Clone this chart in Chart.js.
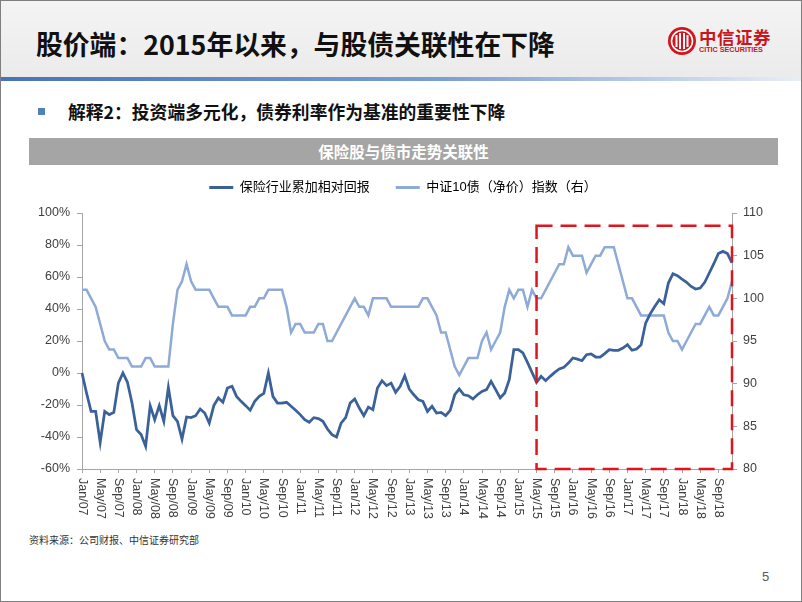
<!DOCTYPE html>
<html>
<head>
<meta charset="utf-8">
<script src="https://cdn.jsdelivr.net/npm/chart.js@4.4.1/dist/chart.umd.min.js"></script>
<style>
  html, body { margin: 0; padding: 0; background: #fff; }
  body { width: 802px; height: 602px; overflow: hidden; position: relative;
         font-family: "Noto Sans CJK SC", "Noto Sans", sans-serif; }
  .frame { position: absolute; left: 0; top: 0; width: 800px; height: 600px; border: 1px solid #7f7f7f; }
  .head { position: absolute; left: 1px; top: 1px; width: 800px; height: 76px;
          background: linear-gradient(#f4f4f4, #ebebeb); }
  .bar { position: absolute; left: 1px; top: 77px; width: 800px; height: 4px;
         background: linear-gradient(to right, #4a73b6, #7c9ed2 55%, #e8eef7); }
  .title { position: absolute; left: 36px; top: 24px; font-size: 26.8px; font-weight: 700;
           color: #111; line-height: 40px; white-space: nowrap; }
  .logo { position: absolute; left: 668px; top: 27px; }
  .logo-cn { position: absolute; left: 699px; top: 26px; font-size: 17.5px; font-weight: 700;
             color: #c8161d; line-height: 22px; letter-spacing: 0.5px; white-space: nowrap; }
  .logo-en { position: absolute; left: 699px; top: 45px; font-family: "Liberation Sans", sans-serif;
             font-size: 7.2px; font-weight: 700; color: #c8161d; line-height: 9px; white-space: nowrap; }
  .bullet { position: absolute; left: 38px; top: 108px; width: 7px; height: 7px; background: #4f81bd; }
  .sub { position: absolute; left: 68px; top: 98px; font-size: 17.8px; font-weight: 700;
         color: #111; line-height: 26px; white-space: nowrap; }
  .banner { position: absolute; left: 29px; top: 138px; width: 749px; height: 27px; background: #a5a5a5;
            color: #fff; font-size: 15.5px; font-weight: 700; line-height: 27px; text-align: center; }
  #chart { position: absolute; left: 18px; top: 150px; }
  .note { position: absolute; left: 29px; top: 533px; font-size: 10px; line-height: 14px; color: #333; white-space: nowrap; }
  .page { position: absolute; left: 762px; top: 569px; font-family: "Liberation Sans", sans-serif;
          font-size: 13px; line-height: 16px; color: #595959; }
</style>
</head>
<body>
<div class="frame"></div>
<div class="head"></div>
<div class="bar"></div>
<div class="title">股价端：2015年以来，与股债关联性在下降</div>
<svg class="logo" width="28" height="28" viewBox="0 0 28 28">
  <circle cx="14" cy="14" r="14" fill="#d2141c"/>
  <circle cx="14" cy="14" r="10.5" fill="none" stroke="#fff" stroke-width="1.6"/>
  <rect x="7.5" y="8" width="2" height="12" fill="#fff"/>
  <rect x="11" y="6" width="2" height="16" fill="#fff"/>
  <rect x="15" y="6" width="2" height="16" fill="#fff"/>
  <rect x="18.5" y="8" width="2" height="12" fill="#fff"/>
</svg>
<div class="logo-cn">中信证券</div>
<div class="logo-en">CITIC SECURITIES</div>
<div class="bullet"></div>
<div class="sub">解释2：投资端多元化，债券利率作为基准的重要性下降</div>
<div class="banner">保险股与债市走势关联性</div>
<canvas id="chart" width="770" height="380"></canvas>
<div class="note">资料来源：公司财报、中信证券研究部</div>
<div class="page">5</div>

<script>
  // monthly, Jan/07 .. Dec/18
  const years = ['07','08','09','10','11','12','13','14','15','16','17','18'];
  const monthNames = ['Jan','Feb','Mar','Apr','May','Jun','Jul','Aug','Sep','Oct','Nov','Dec'];
  const months = [];
  years.forEach(y => monthNames.forEach(m => months.push(m + '/' + y)));

  // 保险行业累加相对回报 (%), left axis
  const insurance = [
    0, -12.5, -24, -24, -43.4, -24, -26, -24.6, -6.3, 0, -5.8, -18.8,
    -35.4, -38.5, -45.8, -20.4, -29.2, -20.4, -30.2, -9, -26.7, -30.2, -41.3, -27.5,
    -27.9, -26.7, -22.5, -25, -31.3, -20.4, -15.6, -18.3, -9.4, -8.3, -14.6, -17.7,
    -20.4, -23.3, -17.7, -14.6, -12.7, 0, -14.6, -18.8, -18.8, -18.3, -20.8, -23.3,
    -26, -29.2, -30.8, -27.9, -28.5, -30.2, -35, -38.5, -40, -31.3, -27.9, -18.8,
    -16.2, -21.9, -26.7, -21.3, -22.9, -9.4, -4.8, -7.9, -6.3, -12.1, -8.3, -1.7,
    -10, -13.6, -16.7, -17.7, -24, -20.8, -25, -24.6, -26.7, -23.3, -13.6, -10,
    -13.6, -14.2, -16.2, -13.6, -11.5, -10.4, -5.2, -10.4, -15.6, -12.5, -4.2, 14.6,
    14.6, 12.5, 6.6, 0.4, -5.8, -2.1, -4.8, -2.1, 0.4, 2.5, 3.5, 6.2,
    9.4, 8.7, 7.7, 11.4, 11.9, 10, 10, 12.1, 14.6, 14.2, 14.2, 15.6,
    17.7, 14.2, 15, 17.7, 31.2, 37, 41.6, 45.8, 43.3, 56.2, 62, 60.8,
    58.7, 56.7, 54.1, 52.5, 53.1, 56.7, 62.5, 68.3, 74.6, 76, 74.6, 68.8
  ];

  // 中证10债（净价）指数, right axis
  const bondIndex = [
    101, 101, 100, 99, 97, 95, 94, 94, 93, 93, 93, 92,
    92, 92, 93, 93, 92, 92, 92, 92, 97, 101, 102, 104,
    102, 101, 101, 101, 101, 100, 99, 99, 99, 98, 98, 98,
    98, 99, 99, 100, 100, 101, 101, 101, 101, 99, 96, 97,
    97, 96, 96, 96, 97, 97, 95, 95, 96, 97, 98, 99,
    100, 99, 99, 98, 100, 100, 100, 100, 99, 99, 99, 99,
    99, 99, 99, 100, 100, 99, 98, 96, 96, 94, 92, 91,
    92, 93, 93, 93, 95, 96, 94, 95, 96, 99, 101, 100,
    101, 101, 99, 101, 100, 100, 101, 102, 103, 104, 104, 106,
    105, 105, 105, 103, 104, 105, 105, 106, 106, 106, 104, 102,
    100, 100, 99, 98, 98, 98, 98, 98, 98, 96, 95, 95,
    94, 95, 96, 97, 97, 98, 99, 98, 98, 99, 100, 102
  ];

  const seriesNames = ['保险行业累加相对回报', '中证10债（净价）指数（右）'];
  const highlight = { from: 'May/15', to: 'Dec/18', top: 108.5 };

  Chart.defaults.font.family = '"Liberation Sans", "Noto Sans CJK SC", sans-serif';
  Chart.defaults.color = '#404040';

  const axisGray = '#a6a6a6';
  const darkBlue = '#3b6199';
  const lightBlue = '#8eaad6';

  // x labels drawn rotated clockwise (top-to-bottom), like the source
  const xLabels = {
    id: 'xLabels',
    afterDraw(chart) {
      const sc = chart.scales.x;
      const ctx = chart.ctx;
      ctx.save();
      ctx.fillStyle = '#404040';
      ctx.font = '12.5px "Liberation Sans", sans-serif';
      ctx.textAlign = 'left';
      ctx.textBaseline = 'middle';
      sc.ticks.forEach(t => {
        ctx.save();
        ctx.translate(sc.getPixelForValue(t.value), sc.top + 9);
        ctx.rotate(Math.PI / 2);
        ctx.fillText(months[t.value], 0, 0);
        ctx.restore();
      });
      ctx.restore();
    }
  };

  const box = {
    id: 'box',
    afterDatasetsDraw(chart) {
      const x = chart.scales.x, y1 = chart.scales.y1;
      const l = x.getPixelForValue(months.indexOf(highlight.from));
      const r = x.getPixelForValue(months.indexOf(highlight.to));
      const t = y1.getPixelForValue(highlight.top);
      const b = y1.getPixelForValue(80);
      const ctx = chart.ctx;
      ctx.save();
      ctx.strokeStyle = '#e0141c';
      ctx.lineWidth = 2.5;
      ctx.setLineDash([16, 8]);
      ctx.strokeRect(l, t, r - l, b - t);
      ctx.restore();
    }
  };

  const legendGap = {
    id: 'legendGap',
    afterInit(chart) {
      const fit = chart.legend.fit;
      chart.legend.fit = function () { fit.call(this); this.height += 9; };
    }
  };

  new Chart(document.getElementById('chart'), {
    type: 'line',
    data: {
      labels: months,
      datasets: [
        { label: seriesNames[0], data: insurance, yAxisID: 'y', borderColor: darkBlue,
          backgroundColor: darkBlue, borderWidth: 2.75, pointRadius: 0, tension: 0 },
        { label: seriesNames[1], data: bondIndex, yAxisID: 'y1', borderColor: lightBlue,
          backgroundColor: lightBlue, borderWidth: 2.5, pointRadius: 0, tension: 0 }
      ]
    },
    options: {
      responsive: false,
      devicePixelRatio: 1,
      animation: false,
      layout: { padding: { top: 5, left: 0, right: 0, bottom: 0 } },
      scales: {
        x: {
          offset: false,
          afterBuildTicks: sc => { sc.ticks = sc.ticks.filter(t => t.value % 4 === 0); },
          afterFit: sc => { sc.height = 61; },
          ticks: { display: false, autoSkip: false },
          grid: { drawOnChartArea: false, drawTicks: true, tickLength: 4, color: axisGray },
          border: { color: axisGray }
        },
        y: {
          position: 'left',
          min: -60, max: 100,
          afterFit: sc => { sc.width = 64; },
          ticks: { stepSize: 20, padding: 7, font: { size: 12.5 }, callback: v => v + '%' },
          grid: { drawOnChartArea: false, drawTicks: true, tickLength: 5, color: axisGray },
          border: { color: axisGray }
        },
        y1: {
          position: 'right',
          min: 80, max: 110,
          afterFit: sc => { sc.width = 56; },
          ticks: { stepSize: 5, padding: 6, font: { size: 12.5 } },
          grid: { drawOnChartArea: false, drawTicks: true, tickLength: 5, color: axisGray },
          border: { color: axisGray }
        }
      },
      plugins: {
        legend: {
          position: 'top',
          labels: {
            boxWidth: 24, boxHeight: 3, padding: 26, color: '#262626',
            font: { size: 13 },
            generateLabels: chart => chart.data.datasets.map((ds, i) => ({
              text: ds.label, fillStyle: ds.borderColor, strokeStyle: ds.borderColor,
              lineWidth: 0, datasetIndex: i, hidden: false
            }))
          }
        },
        tooltip: { enabled: false }
      }
    },
    plugins: [xLabels, box, legendGap]
  });
</script>
</body>
</html>
